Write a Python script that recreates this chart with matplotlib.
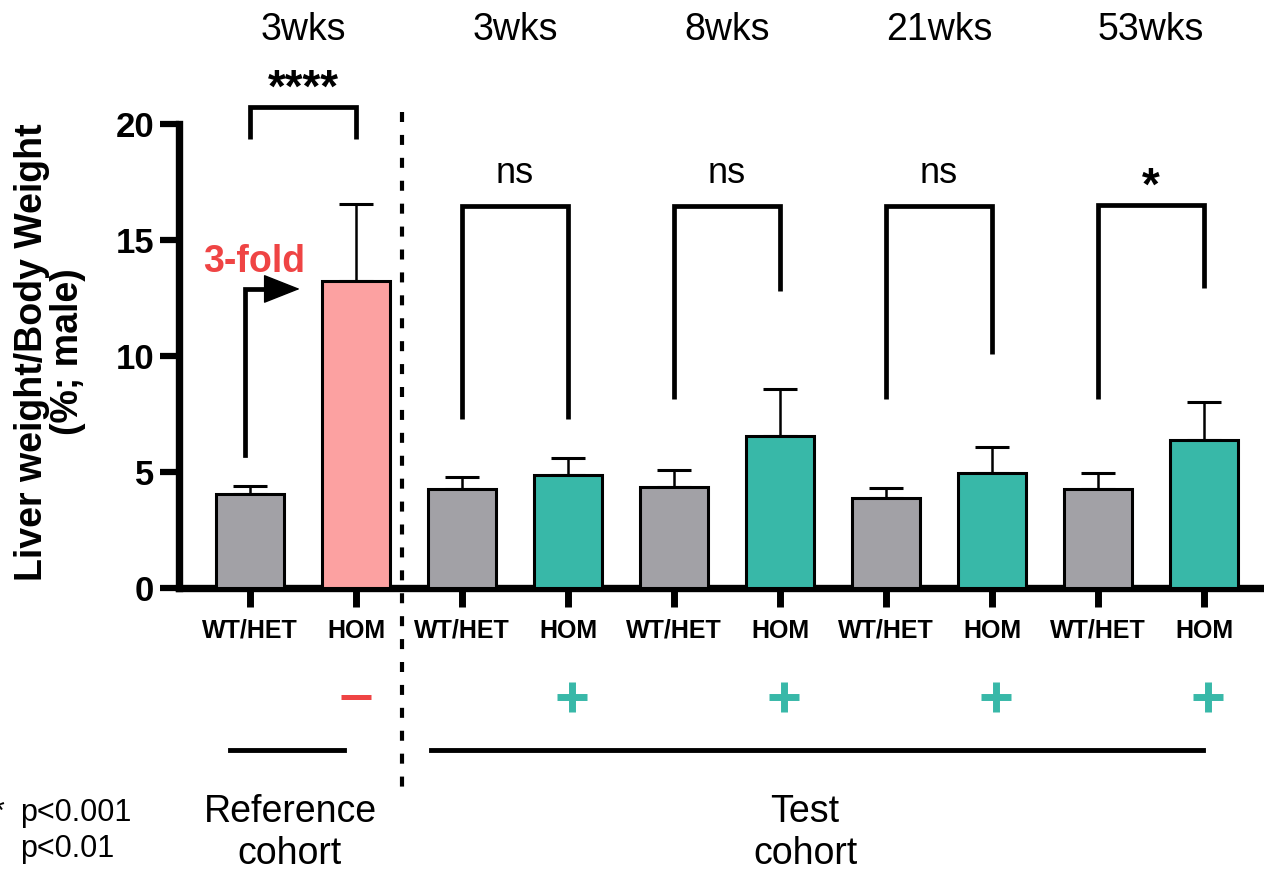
import numpy as np
import matplotlib.pyplot as plt

plt.rcParams['font.family'] = ['Liberation Sans', 'DejaVu Sans']

# values
ages = ['3wks', '3wks', '8wks', '21wks', '53wks']
genotypes = ['WT/HET', 'HOM'] * 5
means = [4.04, 13.23, 4.25, 4.87, 4.34, 6.55, 3.88, 4.94, 4.27, 6.37]
sems = [0.36, 3.32, 0.55, 0.75, 0.76, 2.03, 0.44, 1.12, 0.67, 1.63]
treatment = ['', '-', '', '+', '', '+', '', '+', '', '+']

# significance brackets: bar pairs, top height, leg ends (left, right)
bracket_pairs = [(0, 1), (2, 3), (4, 5), (6, 7), (8, 9)]
sig_labels = ['****', 'ns', 'ns', 'ns', '*']
bracket_top = [20.75, 16.45, 16.45, 16.45, 16.53]
bracket_left_end = [19.35, 7.28, 8.15, 8.15, 8.15]
bracket_right_end = [19.35, 7.28, 12.8, 10.1, 12.93]

GRAY = '#a2a1a6'
TEAL = '#38b8a8'
PINK = '#fca1a1'
RED = '#ef4444'

colors = [GRAY if g == 'WT/HET' else TEAL for g in genotypes]
colors[1] = PINK

W, H = 1264, 871
fig = plt.figure(figsize=(W / 100, H / 100), dpi=100)
ax = fig.add_axes([179 / W, 1 - 588 / H, 1 - 179 / W, 464 / H])

x = np.arange(len(means))
ax.errorbar(x, means, yerr=[np.zeros(len(sems)), sems], fmt='none', ecolor='black',
            elinewidth=1.8, capsize=12.5, capthick=2.2, zorder=2)
ax.bar(x, means, width=0.65, color=colors, edgecolor='black', linewidth=2.2, zorder=3)

ax.set_xlim(-0.67, 9.566)
ax.set_ylim(0, 20)
ax.set_yticks([0, 5, 10, 15, 20])
ax.set_xticks(x)
ax.set_xticklabels(genotypes, fontsize=18, fontweight='bold')
for lab in ax.get_yticklabels():
    lab.set_fontweight('bold')
for s in ['top', 'right']:
    ax.spines[s].set_visible(False)
ax.spines['left'].set_linewidth(5.3)
ax.spines['bottom'].set_linewidth(5.3)
ax.tick_params(axis='y', length=14, width=4.5, labelsize=25, pad=4)
ax.tick_params(axis='x', length=14, width=5, pad=8)

# brackets and significance labels
for (i, j), top, le, re, lab in zip(bracket_pairs, bracket_top, bracket_left_end,
                                   bracket_right_end, sig_labels):
    ax.plot([i, i, j, j], [le, top, top, re], color='black', lw=3.4, clip_on=False,
            solid_joinstyle='miter', solid_capstyle='butt')
    if lab == 'ns':
        ax.text((i + j) / 2, top + 1.0, lab, ha='center', va='baseline', fontsize=26)
    else:
        ax.text((i + j) / 2, top + 0.2, lab, ha='center', va='baseline', fontsize=33,
                fontweight='bold')

# age labels above each pair
for k, age in enumerate(ages):
    ax.text(2 * k + 0.5, 24.05, age, ha='center', va='center', fontsize=27, clip_on=False)

# dotted divider between reference and test cohort
ax.plot([1.434, 1.434], [20.52, -8.84], color='black', lw=3, ls=(0, (2.4, 3.1)),
        clip_on=False)

# fold change arrow
ax.plot([-0.05, -0.05, 0.15], [5.73, 12.89, 12.89], color='black', lw=3.4,
        solid_joinstyle='miter', clip_on=False)
ax.annotate('', xy=(0.47, 12.89), xytext=(0.15, 12.89),
            arrowprops=dict(arrowstyle='-|>,head_length=2.4,head_width=0.95',
                            mutation_scale=10, fc='black', ec='black', lw=1,
                            shrinkA=0, shrinkB=0))
ax.text(0.04, 13.62, '3-fold', color=RED, fontsize=27, fontweight='bold',
        ha='center', va='baseline')

# treatment row
for i, t in enumerate(treatment):
    if t == '+':
        ax.plot(i + 0.04, -4.7, marker='+', ms=21, mew=5, color=TEAL, clip_on=False)
    elif t == '-':
        ax.plot(i, -4.7, marker='_', ms=22, mew=3.6, color=RED, clip_on=False)

# cohort underlines and names
ax.plot([-0.19, 0.887], [-7.0, -7.0], color='black', lw=3.5, clip_on=False)
ax.plot([1.708, 8.99], [-7.0, -7.0], color='black', lw=3.5, clip_on=False)
ax.text(0.377, -10.55, 'Reference\ncohort', ha='center', va='center', fontsize=27,
        linespacing=1.2, clip_on=False)
ax.text(5.236, -10.55, 'Test\ncohort', ha='center', va='center', fontsize=27,
        linespacing=1.2, clip_on=False)

# y label
fig.text(50 / W, 1 - 352 / H, 'Liver weight/Body Weight\n(%; male)', rotation=90,
         ha='center', va='center', fontsize=27, fontweight='bold', linespacing=1.0,
         multialignment='center')

# cut-off legend at the bottom left
fig.text(20 / W, 1 - 821 / H, 'p<0.001', fontsize=22, ha='left', va='baseline')
fig.text(20 / W, 1 - 857 / H, 'p<0.01', fontsize=22, ha='left', va='baseline')
fig.text(5 / W, 1 - 821 / H, '**', fontsize=22, ha='right', va='baseline')

fig.savefig('out.png', dpi=100)
